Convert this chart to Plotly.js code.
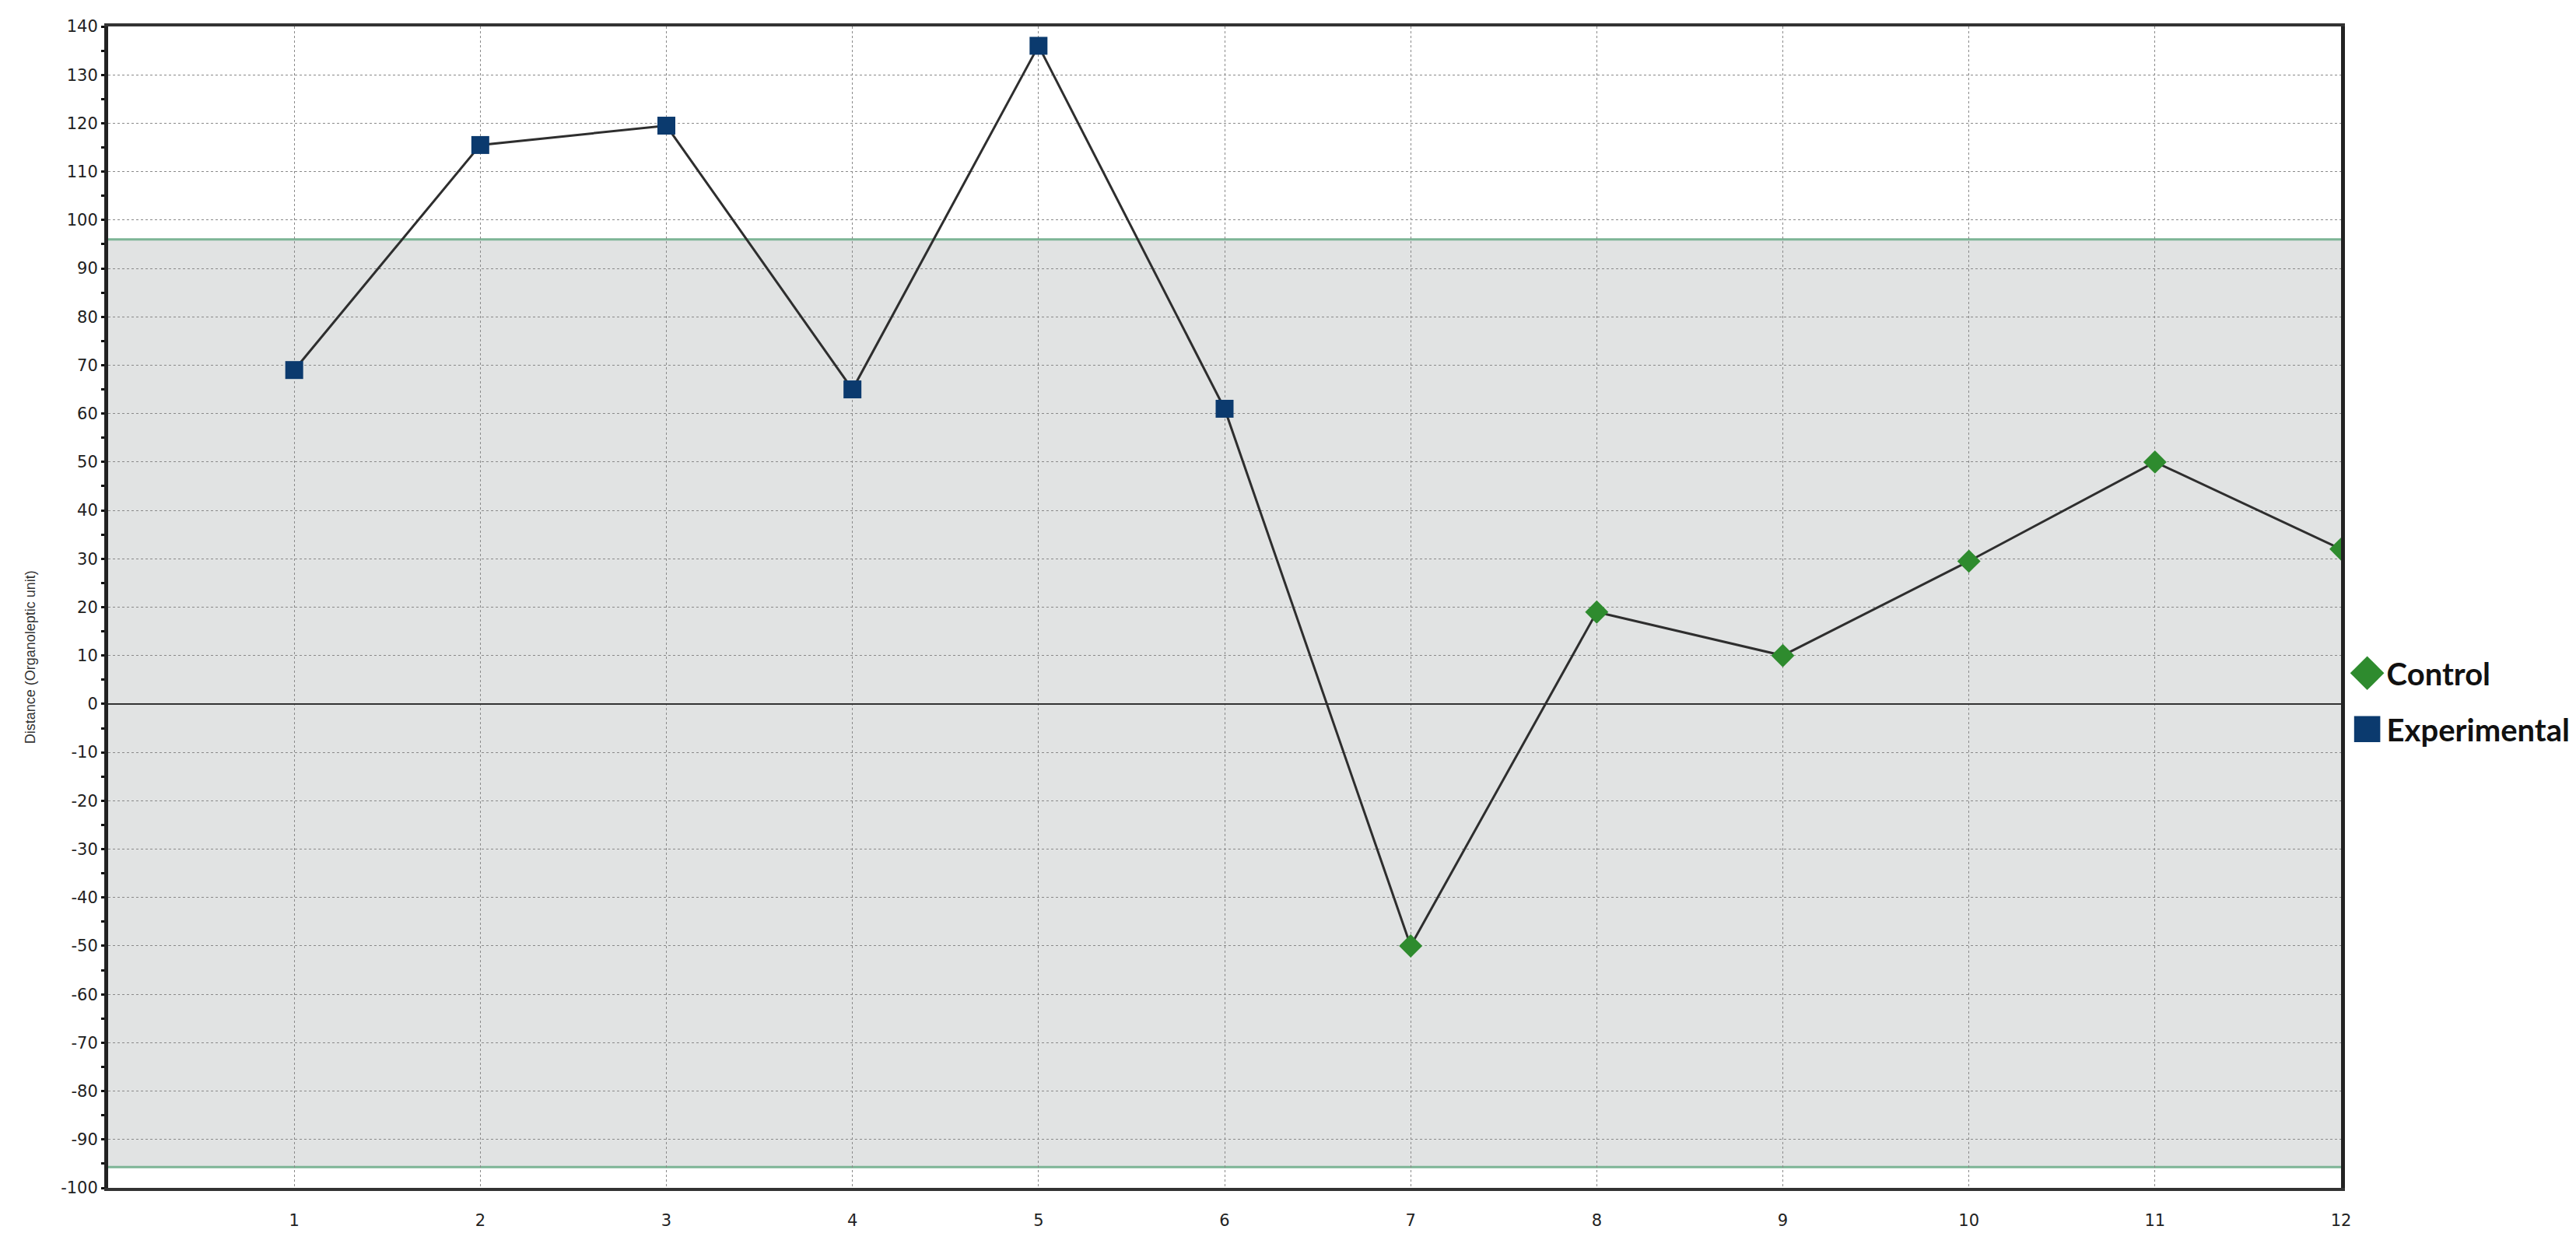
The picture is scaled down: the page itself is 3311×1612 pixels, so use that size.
<!DOCTYPE html>
<html>
<head>
<meta charset="utf-8">
<script src="https://cdn.plot.ly/plotly-3.0.1.min.js"></script>
<style>
  html, body { margin: 0; padding: 0; background: #fff; }
  #plot { width: 3311px; height: 1612px; }
</style>
</head>
<body>
<div id="plot"></div>
<script>
// values
const expX = [1, 2, 3, 4, 5, 6]
const expY = [69, 115.5, 119.5, 65, 136, 61]
const ctrlX = [7, 8, 9, 10, 11, 12]
const ctrlY = [-50, 19, 10, 29.5, 50, 32]
const xTicks = [1, 2, 3, 4, 5, 6, 7, 8, 9, 10, 11, 12]
const yTicks = [-100, -90, -80, -70, -60, -50, -40, -30, -20, -10, 0, 10, 20, 30, 40, 50, 60, 70, 80, 90, 100, 110, 120, 130, 140]
const bandLow = -95.7
const bandHigh = 96

const joined = {
    x: expX.concat(ctrlX),
    y: expY.concat(ctrlY),
    type: 'scatter',
    mode: 'lines',
    line: { color: '#2e2e2e', width: 3 },
    showlegend: false,
    hoverinfo: 'skip'
}

const control = {
    x: ctrlX,
    y: ctrlY,
    type: 'scatter',
    mode: 'markers',
    name: 'Control',
    legendgroup: 'c',
    marker: { symbol: 'diamond', size: 23, color: '#2e8b2e' }
}

const experimental = {
    x: expX,
    y: expY,
    type: 'scatter',
    mode: 'markers',
    name: 'Experimental',
    legendgroup: 'e',
    marker: { symbol: 'square', size: 23, color: '#0b3a6e' }
}

const tickFont = { family: 'DejaVu Sans', size: 21, color: '#222' }

const layout = {
    width: 3311,
    height: 1612,
    margin: { l: 139, r: 302, t: 34, b: 85, autoexpand: false },
    paper_bgcolor: '#ffffff',
    plot_bgcolor: '#ffffff',
    showlegend: true,
    legend: {
        x: 1.003, xanchor: 'left',
        y: 0.465, yanchor: 'top',
        font: { family: 'Lato', size: 40, color: '#111', weight: 'bold' },
        itemwidth: 40,
        tracegroupgap: 17,
        bgcolor: 'rgba(0,0,0,0)'
    },
    xaxis: {
        range: [0, 12],
        tickvals: xTicks,
        ticktext: xTicks.map(String),
        tickfont: tickFont,
        ticks: '',
        ticklabelstandoff: 20,
        showgrid: true,
        gridcolor: '#8a8a8a',
        griddash: 'dot',
        gridwidth: 1,
        zeroline: false,
        showline: true,
        linecolor: '#333',
        linewidth: 4,
        mirror: true
    },
    yaxis: {
        range: [-100, 140],
        tickvals: yTicks,
        ticktext: yTicks.map(String),
        tickfont: tickFont,
        ticks: 'outside',
        ticklen: 4,
        tickwidth: 3,
        tickcolor: '#111',
        minor: { dtick: 5, ticks: 'outside', ticklen: 4, tickwidth: 3, tickcolor: '#111', showgrid: false },
        showgrid: true,
        gridcolor: '#8a8a8a',
        griddash: 'dot',
        gridwidth: 1,
        zeroline: true,
        zerolinecolor: '#333',
        zerolinewidth: 2,
        showline: true,
        linecolor: '#222',
        linewidth: 5,
        mirror: true
    },
    shapes: [
        {
            type: 'rect', xref: 'paper', yref: 'y', layer: 'below',
            x0: 0, x1: 1, y0: bandLow, y1: bandHigh,
            fillcolor: '#e1e3e3', line: { width: 0 }
        },
        {
            type: 'line', xref: 'paper', yref: 'y', layer: 'below',
            x0: 0, x1: 1, y0: bandHigh, y1: bandHigh,
            line: { color: '#7db596', width: 3 }
        },
        {
            type: 'line', xref: 'paper', yref: 'y', layer: 'below',
            x0: 0, x1: 1, y0: bandLow, y1: bandLow,
            line: { color: '#7db596', width: 3 }
        }
    ],
    annotations: [
        {
            text: 'Distance (Organoleptic unit)',
            textangle: -90,
            xref: 'paper', yref: 'paper',
            x: -0.035, y: 0.457,
            xanchor: 'center', yanchor: 'middle',
            showarrow: false,
            font: { family: 'Liberation Sans', size: 18, color: '#333' }
        }
    ]
}

Plotly.newPlot('plot', [joined, control, experimental], layout, { displayModeBar: false, staticPlot: true })
    .then(function () {
        // legend symbols in the reference are much larger than plotly's 16px cap
        document.querySelectorAll('.legend .legendpoints path.scatterpts').forEach(function (p) {
            const t = p.getAttribute('transform') || ''
            p.setAttribute('transform', t + ' scale(2.1)')
        })
    })
</script>
</body>
</html>
